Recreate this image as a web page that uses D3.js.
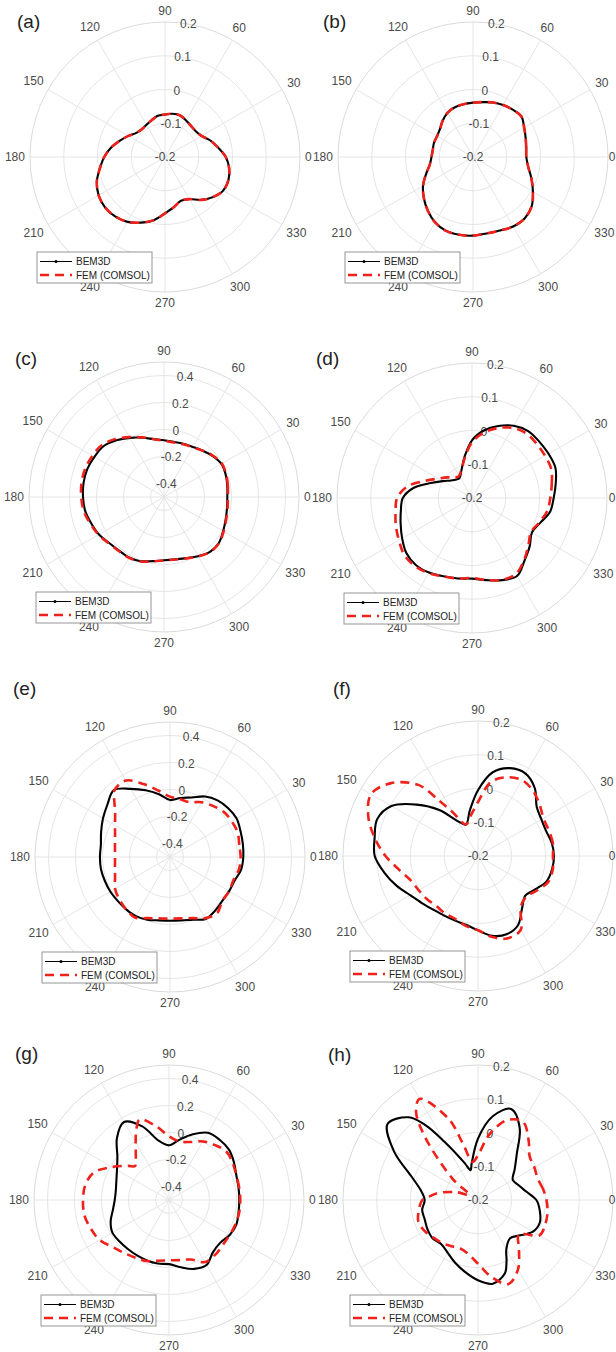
<!DOCTYPE html>
<html>
<head>
<meta charset="utf-8">
<script src="https://cdn.jsdelivr.net/npm/d3@7"></script>
<style>
  body { margin: 0; background: #fff; }
  svg { display: block; }
  text { font-family: "Liberation Sans", Arial, sans-serif; }
</style>
</head>
<body>
<svg id="fig" width="616" height="1352"></svg>
<script>
// Radial tick sets and limits
const ticksNarrow = [-0.2, -0.1, 0, 0.1, 0.2];
const ticksWide = [-0.4, -0.2, 0, 0.2, 0.4];
const limNarrow = [-0.2, 0.2];
const limWide = [-0.5, 0.5];
const angleTicks = [0, 30, 60, 90, 120, 150, 180, 210, 240, 270, 300, 330];
const seriesNames = ["BEM3D", "FEM (COMSOL)"];

// Each series: [angle in degrees, value]
const bemA = [[0,-0.02],[10,-0.04],[20,-0.057],[30,-0.075],[40,-0.081],[50,-0.08],[60,-0.075],[70,-0.069],[80,-0.07],[90,-0.074],[100,-0.076],[110,-0.084],[120,-0.09],[130,-0.093],[140,-0.089],[150,-0.075],[160,-0.058],[170,-0.038],[180,-0.02],[190,-0.004],[200,0.015],[210,0.027],[220,0.032],[230,0.03],[240,0.022],[250,0.007],[260,-0.01],[270,-0.033],[280,-0.049],[290,-0.062],[300,-0.056],[310,-0.034],[320,-0.015],[330,-0.001],[340,0.0],[350,-0.007]];
const femA = [[0,-0.02],[10,-0.04],[20,-0.057],[30,-0.075],[40,-0.081],[50,-0.08],[60,-0.075],[70,-0.069],[80,-0.07],[90,-0.074],[100,-0.076],[110,-0.084],[120,-0.09],[130,-0.093],[140,-0.089],[150,-0.075],[160,-0.058],[170,-0.038],[180,-0.02],[190,-0.004],[200,0.015],[210,0.027],[220,0.032],[230,0.03],[240,0.022],[250,0.007],[260,-0.01],[270,-0.033],[280,-0.049],[290,-0.062],[300,-0.056],[310,-0.034],[320,-0.015],[330,-0.001],[340,0.0],[350,-0.007]];

const bemB = [[0,-0.042],[10,-0.04],[20,-0.034],[30,-0.025],[40,-0.013],[50,-0.017],[60,-0.022],[70,-0.028],[80,-0.035],[90,-0.039],[100,-0.041],[110,-0.043],[120,-0.049],[130,-0.06],[140,-0.072],[150,-0.077],[160,-0.077],[170,-0.079],[180,-0.077],[190,-0.07],[200,-0.052],[210,-0.029],[220,-0.01],[230,0.008],[240,0.024],[250,0.033],[260,0.034],[270,0.033],[280,0.03],[290,0.032],[300,0.038],[310,0.038],[320,0.027],[330,0.005],[340,-0.016],[350,-0.034]];
const femB = [[0,-0.042],[10,-0.04],[20,-0.034],[30,-0.025],[40,-0.013],[50,-0.017],[60,-0.022],[70,-0.028],[80,-0.035],[90,-0.039],[100,-0.041],[110,-0.043],[120,-0.049],[130,-0.06],[140,-0.072],[150,-0.077],[160,-0.077],[170,-0.079],[180,-0.077],[190,-0.07],[200,-0.052],[210,-0.029],[220,-0.01],[230,0.008],[240,0.024],[250,0.033],[260,0.034],[270,0.033],[280,0.03],[290,0.032],[300,0.038],[310,0.038],[320,0.027],[330,0.005],[340,-0.016],[350,-0.034]];

const bemC = [[0,-0.031],[10,-0.024],[20,-0.014],[30,-0.009],[40,-0.028],[50,-0.053],[60,-0.072],[70,-0.08],[80,-0.085],[90,-0.08],[100,-0.065],[110,-0.033],[120,0.006],[130,0.048],[140,0.085],[150,0.095],[160,0.105],[170,0.105],[180,0.1],[190,0.093],[200,0.073],[210,0.056],[220,0.03],[230,0.018],[240,0.018],[250,0.006],[260,-0.018],[270,-0.031],[280,-0.031],[290,-0.018],[300,0.006],[310,0.03],[320,0.03],[330,0.006],[340,-0.014],[350,-0.026]];
const femC = [[0,-0.027],[10,-0.02],[20,-0.01],[30,-0.005],[40,-0.025],[50,-0.053],[60,-0.075],[70,-0.085],[80,-0.09],[90,-0.083],[100,-0.065],[110,-0.03],[120,0.012],[130,0.06],[140,0.1],[150,0.112],[160,0.12],[170,0.12],[180,0.113],[190,0.103],[200,0.08],[210,0.06],[220,0.034],[230,0.022],[240,0.02],[250,0.008],[260,-0.016],[270,-0.03],[280,-0.03],[290,-0.016],[300,0.008],[310,0.032],[320,0.032],[330,0.01],[340,-0.01],[350,-0.022]];

const bemD = [[0,0.042],[10,0.052],[20,0.063],[30,0.062],[40,0.06],[50,0.059],[60,0.047],[70,0.027],[80,0.003],[90,-0.029],[100,-0.075],[110,-0.11],[122,-0.13],[130,-0.128],[140,-0.119],[150,-0.1],[160,-0.07],[170,-0.025],[180,0.005],[190,0.014],[200,0.025],[210,0.039],[220,0.054],[230,0.059],[240,0.055],[250,0.047],[260,0.042],[270,0.039],[280,0.047],[290,0.059],[300,0.067],[310,0.042],[320,0.023],[330,0.005],[340,0.015],[350,0.035]];
const femD = [[0,0.032],[10,0.04],[20,0.05],[30,0.05],[40,0.05],[50,0.05],[60,0.04],[70,0.02],[80,-0.004],[90,-0.035],[100,-0.078],[110,-0.11],[122,-0.125],[130,-0.12],[140,-0.105],[150,-0.085],[160,-0.052],[170,-0.005],[180,0.022],[190,0.03],[200,0.04],[210,0.05],[220,0.062],[230,0.063],[240,0.057],[250,0.047],[260,0.042],[270,0.037],[280,0.047],[290,0.058],[300,0.06],[310,0.04],[320,0.018],[330,0.002],[340,0.012],[350,0.026]];

const bemE = [[0,0.043],[10,0.048],[20,0.056],[30,0.07],[40,0.063],[50,0.048],[60,0.018],[70,-0.031],[80,-0.056],[90,-0.078],[100,-0.028],[110,0.026],[120,0.083],[130,0.147],[140,0.105],[150,0.073],[160,0.043],[170,0.02],[180,0.019],[190,0.019],[200,0.014],[210,0.011],[220,0.006],[230,0.006],[240,0.006],[250,-0.006],[260,-0.023],[270,-0.028],[280,-0.023],[290,-0.006],[300,0.03],[310,0.019],[320,0.006],[330,0.006],[340,0.01],[350,0.035]];
const femE = [[0,0.023],[10,0.021],[20,0.033],[30,0.028],[40,0.02],[50,-0.006],[60,-0.031],[70,-0.068],[80,-0.066],[90,-0.053],[100,0.0],[110,0.075],[120,0.154],[130,0.142],[135,0.083],[140,0.031],[150,-0.03],[160,-0.067],[170,-0.086],[180,-0.093],[190,-0.086],[200,-0.067],[210,-0.03],[220,-0.011],[230,0.006],[240,0.018],[250,-0.018],[260,-0.038],[270,-0.043],[280,-0.038],[290,-0.018],[300,0.023],[310,0.043],[320,0.006],[330,0.006],[340,0.0],[350,0.019]];

const bemF = [[0,0.025],[10,0.022],[20,0.015],[30,0.017],[40,0.027],[50,0.062],[60,0.082],[70,0.077],[80,0.052],[90,-0.005],[100,-0.062],[111,-0.1],[120,-0.081],[130,-0.022],[140,0.037],[150,0.096],[160,0.118],[170,0.111],[180,0.106],[190,0.082],[200,0.057],[210,0.032],[220,0.017],[230,0.007],[240,0.003],[250,0.003],[260,0.007],[270,0.02],[280,0.04],[290,0.047],[300,0.037],[310,0.003],[320,-0.017],[330,-0.003],[340,0.017],[350,0.023]];
const femF = [[0,0.022],[10,0.025],[20,0.023],[30,0.024],[40,0.038],[50,0.053],[60,0.06],[70,0.048],[80,0.023],[90,-0.04],[100,-0.078],[111,-0.1],[120,-0.05],[125,0.0],[130,0.075],[140,0.136],[150,0.166],[160,0.146],[170,0.111],[180,0.074],[190,0.037],[200,0.012],[210,0.003],[220,-0.002],[230,-0.007],[240,-0.004],[250,-0.002],[260,0.01],[270,0.02],[280,0.044],[290,0.059],[300,0.053],[310,-0.003],[320,-0.013],[330,0.003],[340,0.022],[350,0.025]];

const bemG = [[0,0.021],[10,0.023],[20,0.031],[30,0.056],[40,0.08],[50,0.083],[60,0.075],[70,0.018],[80,-0.046],[90,-0.095],[100,-0.053],[110,0.08],[120,0.167],[130,0.1],[140,-0.001],[150,-0.055],[160,-0.085],[170,-0.1],[180,-0.098],[190,-0.078],[200,-0.04],[210,-0.016],[220,-0.022],[230,-0.026],[240,-0.026],[250,-0.023],[260,-0.022],[270,-0.025],[280,0.006],[290,0.043],[300,0.056],[310,0.006],[320,-0.006],[330,0.019],[340,0.031],[350,0.023]];
const femG = [[0,0.028],[10,0.028],[20,0.031],[30,0.045],[40,0.056],[50,0.031],[60,0.001],[70,-0.043],[80,-0.06],[90,-0.028],[100,0.056],[110,0.135],[115,0.073],[120,-0.006],[130,-0.117],[135,-0.144],[140,-0.107],[150,-0.011],[160,0.093],[170,0.13],[180,0.137],[190,0.137],[200,0.117],[210,0.093],[220,0.043],[230,0.014],[240,-0.006],[250,-0.019],[260,-0.043],[270,-0.053],[280,-0.048],[290,-0.031],[300,0.031],[310,0.031],[320,0.019],[330,0.019],[340,0.023],[350,0.028]];

const bemH = [[0,-0.027],[10,-0.055],[20,-0.072],[30,-0.081],[40,-0.058],[50,-0.021],[60,0.047],[70,0.087],[80,0.052],[90,-0.018],[100,-0.091],[104,-0.109],[110,-0.083],[120,0.0],[125,0.07],[130,0.12],[140,0.15],[150,0.087],[160,0.012],[170,-0.027],[180,-0.042],[190,-0.032],[200,-0.032],[210,-0.027],[220,-0.024],[230,-0.03],[240,-0.02],[250,-0.002],[260,0.017],[270,0.038],[280,0.052],[290,0.032],[295,0.0],[300,-0.032],[310,-0.052],[320,-0.037],[330,-0.012],[340,-0.005],[350,-0.014]];
const femH = [[0,0.003],[10,-0.005],[20,-0.012],[30,-0.007],[40,0.0],[50,0.033],[60,0.067],[70,0.052],[80,-0.002],[90,-0.067],[98,-0.086],[105,-0.027],[110,0.057],[120,0.146],[125,0.12],[130,0.045],[140,-0.1],[150,-0.17],[160,-0.132],[170,-0.08],[175,-0.06],[180,-0.035],[190,-0.022],[200,-0.012],[210,-0.017],[220,-0.027],[230,-0.034],[240,-0.042],[250,-0.047],[260,-0.037],[270,-0.011],[280,0.032],[290,0.065],[300,0.037],[310,-0.011],[320,-0.042],[330,0.01],[340,0.012],[350,0.009]];

// Panel layout
const R = 135;
const W = 616;
const panels = [
  {tag: "(a)", cx: 165, cy: 157, lim: limNarrow, ticks: ticksNarrow, bem: bemA, fem: femA, tx: 17, ty: 28},
  {tag: "(b)", cx: 473, cy: 157, lim: limNarrow, ticks: ticksNarrow, bem: bemB, fem: femB, tx: 323, ty: 28},
  {tag: "(c)", cx: 164, cy: 497, lim: limWide, ticks: ticksWide, bem: bemC, fem: femC, tx: 15, ty: 365},
  {tag: "(d)", cx: 472, cy: 498, lim: limNarrow, ticks: ticksNarrow, bem: bemD, fem: femD, tx: 316, ty: 365},
  {tag: "(e)", cx: 170, cy: 857, lim: limWide, ticks: ticksWide, bem: bemE, fem: femE, tx: 13, ty: 695},
  {tag: "(f)", cx: 478, cy: 856, lim: limNarrow, ticks: ticksNarrow, bem: bemF, fem: femF, tx: 333, ty: 695},
  {tag: "(g)", cx: 169, cy: 1200, lim: limWide, ticks: ticksWide, bem: bemG, fem: femG, tx: 15, ty: 1060},
  {tag: "(h)", cx: 478, cy: 1200, lim: limNarrow, ticks: ticksNarrow, bem: bemH, fem: femH, tx: 328, ty: 1061}
];

const svg = d3.select("#fig");
const rad = Math.PI / 180;
const gridColor = "#e2e2e2";
const labelColor = "#4a4a4a";
const fmt = v => (v === 0 ? "0" : String(v));
const charW = 6.7, lineH = 12;

// centre of an angle label, a small gap outside the outer ring
function angleLabelPos(p, d) {
  const w = String(d).length * charW;
  const c = Math.cos(d * rad), s = Math.sin(d * rad);
  const off = R + 5 + Math.abs(c) * w / 2 + Math.abs(s) * lineH / 2;
  let x = p.cx + off * c;
  const y = p.cy - off * s;
  // keep the label inside the page
  x = Math.min(x, W - w / 2 - 0.5);
  return [x - p.cx, y - p.cy];
}

function drawPanel(p) {
  const g = svg.append("g").attr("transform", `translate(${p.cx},${p.cy})`);
  const r = d3.scaleLinear().domain(p.lim).range([0, R]);

  // concentric grid rings: every tick above the centre, plus the outer edge
  const ringVals = p.ticks.filter(t => r(t) > 0.5);
  if (ringVals[ringVals.length - 1] !== p.lim[1]) ringVals.push(p.lim[1]);
  g.selectAll("circle.ring").data(ringVals).join("circle")
    .attr("class", "ring")
    .attr("r", d => r(d))
    .attr("fill", "none")
    .attr("stroke", d => d === p.lim[1] ? "#d6d6d6" : gridColor)
    .attr("stroke-width", 0.9);

  // angular spokes
  g.selectAll("line.spoke").data(angleTicks).join("line")
    .attr("class", "spoke")
    .attr("x1", 0).attr("y1", 0)
    .attr("x2", d => R * Math.cos(d * rad))
    .attr("y2", d => -R * Math.sin(d * rad))
    .attr("stroke", gridColor)
    .attr("stroke-width", 0.9);

  // angle labels just outside the outer ring
  g.selectAll("text.ang").data(angleTicks).join("text")
    .attr("class", "ang")
    .attr("x", d => angleLabelPos(p, d)[0])
    .attr("y", d => angleLabelPos(p, d)[1])
    .attr("text-anchor", "middle")
    .attr("dominant-baseline", "central")
    .attr("font-size", 12)
    .attr("fill", labelColor)
    .text(d => d);

  // radial tick labels along the 80 degree direction
  g.selectAll("text.rt").data(p.ticks).join("text")
    .attr("class", "rt")
    .attr("x", d => r(d) * Math.cos(80 * rad))
    .attr("y", d => -r(d) * Math.sin(80 * rad))
    .attr("text-anchor", "middle")
    .attr("dominant-baseline", "central")
    .attr("font-size", 12)
    .attr("fill", labelColor)
    .text(fmt);

  const line = d3.lineRadial()
    .angle(d => (90 - d[0]) * rad)
    .radius(d => r(d[1]))
    .curve(d3.curveCatmullRomClosed.alpha(0.5));

  g.append("path")
    .attr("d", line(p.bem))
    .attr("fill", "none")
    .attr("stroke", "#000")
    .attr("stroke-width", 2.1)
    .attr("stroke-linejoin", "round");

  g.append("path")
    .attr("d", line(p.fem))
    .attr("fill", "none")
    .attr("stroke", "#f0201a")
    .attr("stroke-width", 2.6)
    .attr("stroke-dasharray", "9,6");

  // legend box
  const lg = g.append("g").attr("transform", "translate(-128,95)");
  lg.append("rect")
    .attr("width", 115).attr("height", 31)
    .attr("fill", "#fff").attr("stroke", "#8a8a8a").attr("stroke-width", 0.9);
  lg.append("line").attr("x1", 3).attr("x2", 35).attr("y1", 9.5).attr("y2", 9.5)
    .attr("stroke", "#000").attr("stroke-width", 1);
  lg.append("circle").attr("cx", 19).attr("cy", 9.5).attr("r", 1.5).attr("fill", "#000");
  lg.append("line").attr("x1", 3).attr("x2", 35).attr("y1", 23).attr("y2", 23)
    .attr("stroke", "#f0201a").attr("stroke-width", 2.6).attr("stroke-dasharray", "9,6");
  lg.selectAll("text.lt").data(seriesNames).join("text")
    .attr("class", "lt")
    .attr("x", 39)
    .attr("y", (d, i) => i === 0 ? 9.5 : 23)
    .attr("dominant-baseline", "central")
    .attr("font-size", 10)
    .attr("fill", "#222")
    .text(d => d);

  svg.append("text")
    .attr("x", p.tx).attr("y", p.ty)
    .attr("font-size", 19)
    .attr("fill", "#222")
    .text(p.tag);
}

panels.forEach(drawPanel);
</script>
</body>
</html>
